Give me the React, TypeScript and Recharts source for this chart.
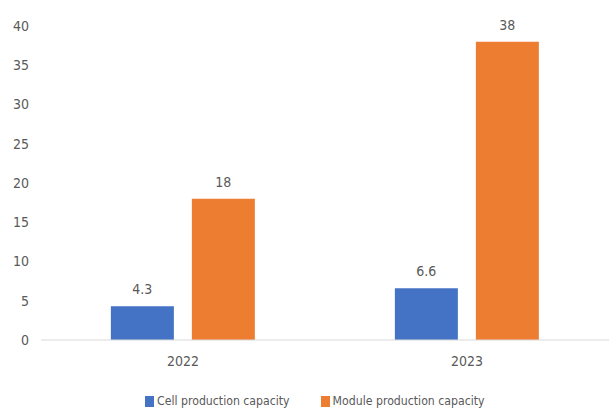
import React from 'react';
import { BarChart, Bar, XAxis, YAxis, Legend, LabelList } from 'recharts';

const years = ['2022', '2023'];
const cellCapacity = [4.3, 6.6];
const moduleCapacity = [18, 38];
const yTicks = [0, 5, 10, 15, 20, 25, 30, 35, 40];
const seriesNames = ['Cell production capacity', 'Module production capacity'];
const seriesColors = ['#4472c4', '#ed7d31'];

const FONT = '"Liberation Sans Narrow", "DejaVu Sans Condensed", Arial, sans-serif';
const TEXT = '#595959';

const data = years.map((year, i) => ({
  year,
  cell: cellCapacity[i],
  module: moduleCapacity[i],
}));

// legend drawn by hand so the spacing matches the original
const renderLegend = () => (
  <div style={{ display: 'flex', alignItems: 'center', fontFamily: FONT, fontSize: 12.2, color: TEXT }}>
    {seriesNames.map((name, i) => (
      <div key={name} style={{ display: 'flex', alignItems: 'center', marginRight: i === 0 ? 31 : 0 }}>
        <span style={{ display: 'inline-block', width: 9, height: 11, background: seriesColors[i], marginRight: 3 }} />
        <span>{name}</span>
      </div>
    ))}
  </div>
);

const App: React.FC = () => {
  return (
    <div style={{ position: 'absolute', left: 0, top: 0, width: 611, height: 408, background: '#fff', fontFamily: FONT, overflow: 'hidden' }}>
      <BarChart
        width={611}
        height={408}
        data={data}
        margin={{ top: 26, right: 2, left: 0, bottom: 18 }}
        barCategoryGap="24.6%"
        barGap={18}
      >
        <XAxis
          dataKey="year"
          height={30}
          tickLine={false}
          axisLine={{ stroke: '#d9d9d9' }}
          tick={{ fill: TEXT, fontSize: 14, fontFamily: FONT }}
          tickMargin={10}
        />
        <YAxis
          width={41}
          domain={[0, 40]}
          ticks={yTicks}
          axisLine={false}
          tickLine={false}
          tickMargin={6}
          tick={{ fill: TEXT, fontSize: 14, fontFamily: FONT }}
        />
        <Legend
          height={20}
          content={renderLegend}
          wrapperStyle={{ top: 394, left: 145, width: 'auto' }}
        />
        <Bar dataKey="cell" name={seriesNames[0]} fill={seriesColors[0]} isAnimationActive={false}>
          <LabelList dataKey="cell" position="top" offset={12} fill={TEXT} fontSize={14} fontFamily={FONT} />
        </Bar>
        <Bar dataKey="module" name={seriesNames[1]} fill={seriesColors[1]} isAnimationActive={false}>
          <LabelList dataKey="module" position="top" offset={12} fill={TEXT} fontSize={14} fontFamily={FONT} />
        </Bar>
      </BarChart>
    </div>
  );
};

export default App;
